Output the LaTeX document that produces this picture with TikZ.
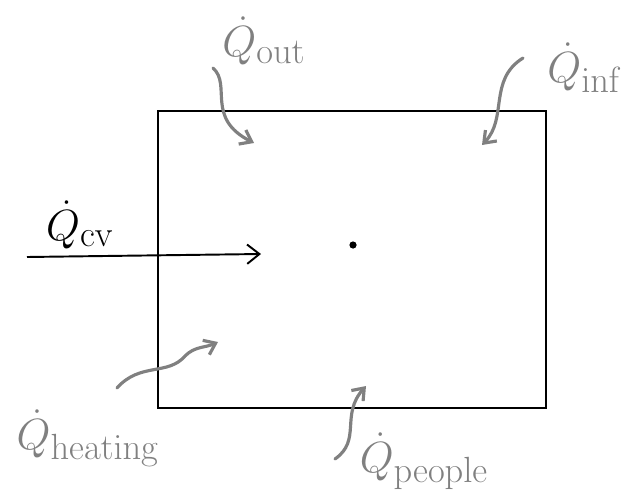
\documentclass[tikz,border=0pt]{standalone}
\usetikzlibrary{arrows.meta}
\begin{document}
\begin{tikzpicture}[x=0.02cm,y=-0.02cm,
  flux/.style={-{Straight Barb[length=6pt,width=9pt]},gray,line width=1.8pt,line cap=round},
  lbl/.style={gray,font=\Huge,inner sep=0pt}]
\useasboundingbox (0,0) rectangle (625,497);
\clip (0,0) rectangle (625,497);

% control volume
\node[draw,line width=1.3pt,minimum width=7.76cm,minimum height=5.94cm] (cv) at (352,259.5) {};
\fill (353,245) circle (3.6);

% heat into the volume
\coordinate (cvin) at (27,257);
\coordinate (cvtip) at (261,254);
\draw[-{Straight Barb[length=7pt,width=11pt]},line width=1.1pt] (cvin) -- (cvtip);
\node[font=\Huge,inner sep=0pt,anchor=south] (qcv) at (80,249) {$\dot Q_{\mathrm{cv}}$};

% labels
\node[lbl] (qout) at (264,41) {$\dot Q_{\mathrm{out}}$};
\node[lbl,anchor=west] (qinf) at (547,68) {$\dot Q_{\mathrm{inf}}$};
\node[lbl] (qheat) at (88,438) {$\dot Q_{\mathrm{heating}}$};
\node[lbl] (qpeople) at (424,461) {$\dot Q_{\mathrm{people}}$};

% wiggly arrows
\coordinate (o1) at (213,68);  \coordinate (o2) at (254,143);
\coordinate (i1) at (523,58);  \coordinate (i2) at (482,145);
\coordinate (h1) at (117,388); \coordinate (h2) at (218,342);
\coordinate (p1) at (335,459); \coordinate (p2) at (366,386);
\draw[flux] (o1) .. controls (232,85) and (205,118) .. (o2);
\draw[flux] (i1) .. controls (488,80) and (508,118) .. (i2);
\draw[flux] (h1) .. controls (140,362) and (168,376) .. (185,356) .. controls (195,346) and (205,348) .. (h2);
\draw[flux] (p1) .. controls (362,440) and (340,415) .. (p2);
\end{tikzpicture}
\end{document}
